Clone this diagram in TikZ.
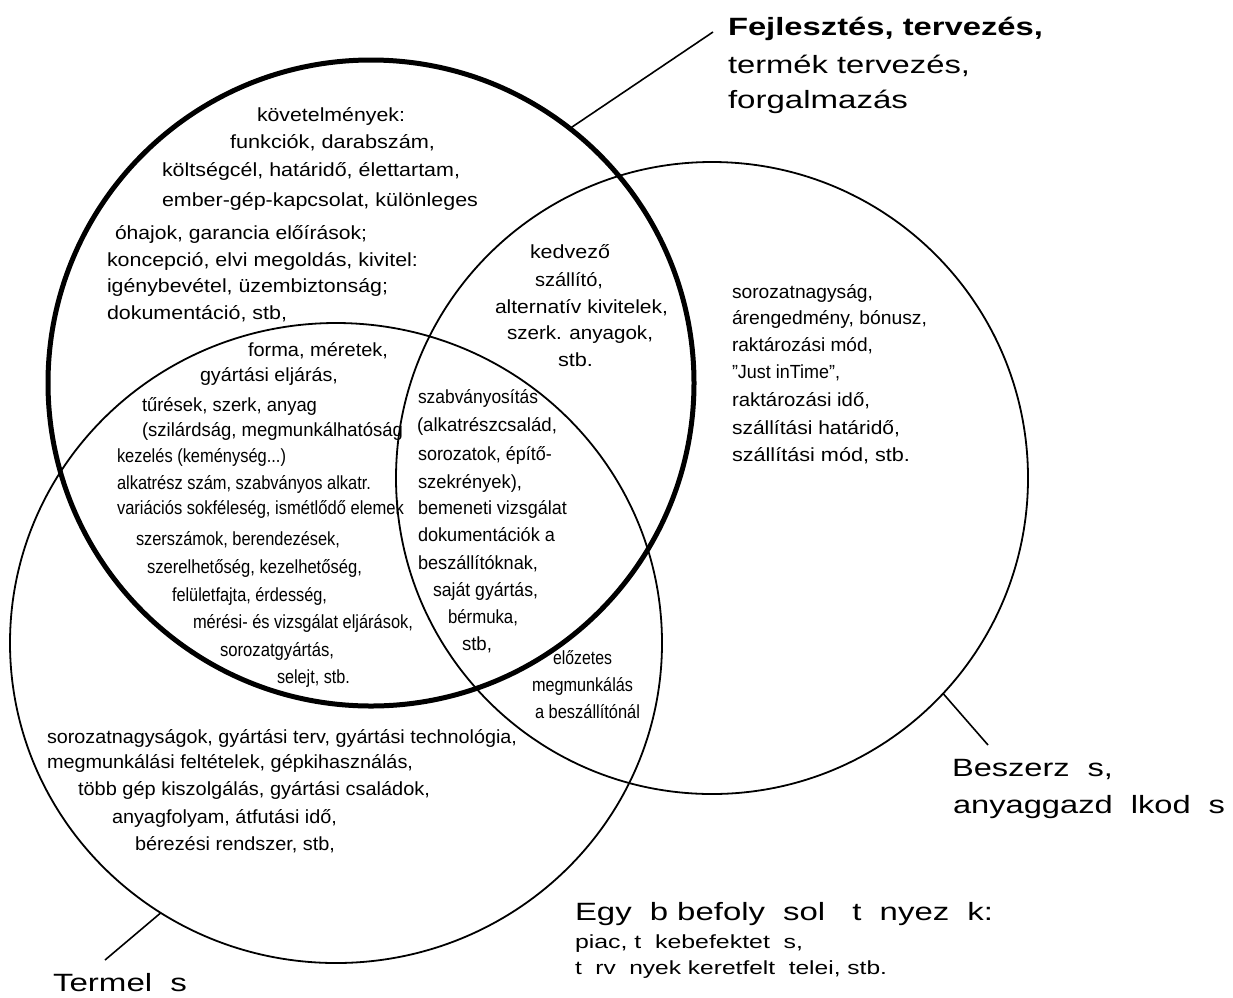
\documentclass[tikz,border=0pt]{standalone}
\usepackage{fontspec}
\setmainfont{Liberation Sans}
\usepackage{graphicx}
\usetikzlibrary{shapes.geometric}
\newcommand{\gp}{\hspace{0.55em}}
\begin{document}
\begin{tikzpicture}[x=1pt,y=-1pt,
  txt/.style={inner sep=0pt, outer sep=0pt, anchor=base west, yshift=-6pt, font=\fontsize{19}{22}\selectfont},
  big/.style={inner sep=0pt, outer sep=0pt, anchor=base west, yshift=-8pt, font=\fontsize{25}{28}\selectfont},
  thinring/.style={draw, line width=1.8pt, inner sep=0pt, outer sep=0pt},
  thickring/.style={draw, line width=5pt, inner sep=0pt, outer sep=0pt},
  leader/.style={line width=1.6pt}]
\useasboundingbox (0,0) rectangle (1233,997);
% circles
\node[thickring, circle, minimum size=646pt] (dev) at (371,383) {};
\node[thinring, circle, minimum size=632pt] (buy) at (712,478) {};
\node[thinring, ellipse, minimum width=652pt, minimum height=640pt] (prod) at (336,643) {};
% block A
\foreach \x/\w/\y/\t [count=\i] in {
  257/148/115/{követelmények:},
  230/205/142/{funkciók, darabszám,},
  162/298/170/{költségcél, határidő, élettartam,},
  162/316/200/{ember-gép-kapcsolat, különleges},
  115/252/233/{óhajok, garancia előírások;},
  107/311/260/{koncepció, elvi megoldás, kivitel:},
  107/281/286/{igénybevétel, üzembiztonság;},
  107/180/313/{dokumentáció, stb,}}
  {\node[txt] (A\i) at (\x,\y) {\resizebox{\w pt}{\height}{\t}};}
% block B
\foreach \x/\w/\y/\t [count=\i] in {
  248/140/350/{forma, méretek,},
  200/138/375/{gyártási eljárás,},
  142/175/405/{tűrések, szerk, anyag},
  142/261/430/{(szilárdság, megmunkálhatóság},
  117/169/456/{kezelés (keménység...)},
  117/254/483/{alkatrész szám, szabványos alkatr.},
  117/287/508/{variációs sokféleség, ismétlődő elemek},
  136/204/539/{szerszámok, berendezések,},
  147/215/567/{szerelhetőség, kezelhetőség,},
  172/155/595/{felületfajta, érdesség,},
  193/220/622/{mérési- és vizsgálat eljárások,},
  220/114/650/{sorozatgyártás,},
  277/73/677/{selejt, stb.}}
  {\node[txt] (B\i) at (\x,\y) {\resizebox{\w pt}{\height}{\t}};}
% block C
\foreach \x/\w/\y/\t [count=\i] in {
  418/120/397/{szabványosítás},
  417/140/425/{(alkatrészcsalád,},
  418/134/454/{sorozatok, építő-},
  418/104/482/{szekrények),},
  418/149/508/{bemeneti vizsgálat},
  418/137/535/{dokumentációk a},
  418/120/563/{beszállítóknak,},
  433/105/590/{saját gyártás,},
  448/70/617/{bérmuka,},
  462/30/644/{stb,}}
  {\node[txt] (C\i) at (\x,\y) {\resizebox{\w pt}{\height}{\t}};}
% block D
\foreach \x/\w/\y/\t [count=\i] in {
  530/80/252/{kedvező},
  535/68/280/{szállító,},
  495/173/307/{alternatív kivitelek,},
  507/146/333/{szerk. anyagok,},
  558/35/360/{stb.}}
  {\node[txt] (D\i) at (\x,\y) {\resizebox{\w pt}{\height}{\t}};}
% block E
\foreach \x/\w/\y/\t [count=\i] in {
  732/141/292/{sorozatnagyság,},
  732/195/318/{árengedmény, bónusz,},
  732/141/345/{raktározási mód,},
  732/108/372/{"Just inTime",},
  732/138/400/{raktározási idő,},
  732/168/428/{szállítási határidő,},
  732/178/455/{szállítási mód, stb.}}
  {\node[txt] (E\i) at (\x,\y) {\resizebox{\w pt}{\height}{\t}};}
% block F
\foreach \x/\w/\y/\t [count=\i] in {
  47/470/737/{sorozatnagyságok, gyártási terv, gyártási technológia,},
  47/366/762/{megmunkálási feltételek, gépkihasználás,},
  78/352/789/{több gép kiszolgálás, gyártási családok,},
  112/225/817/{anyagfolyam, átfutási idő,},
  135/200/844/{bérezési rendszer, stb,}}
  {\node[txt] (F\i) at (\x,\y) {\resizebox{\w pt}{\height}{\t}};}
% block G
\foreach \x/\w/\y/\t [count=\i] in {
  553/59/658/{előzetes},
  532/101/685/{megmunkálás},
  535/105/712/{a beszállítónál}}
  {\node[txt] (G\i) at (\x,\y) {\resizebox{\w pt}{\height}{\t}};}
% labels
\node[big] (L1) at (728,27) {\resizebox{315pt}{\height}{\bfseries Fejlesztés, tervezés,}};
\node[big] (L2) at (728,65) {\resizebox{242pt}{\height}{termék tervezés,}};
\node[big] (L3) at (728,100) {\resizebox{180pt}{\height}{forgalmazás}};
\node[big] (M1) at (952,768) {\resizebox{161pt}{\height}{Beszerz\gp s,}};
\node[big] (M2) at (953,805) {\resizebox{272pt}{\height}{anyaggazd\gp lkod\gp s}};
\node[big] (N1) at (575,912) {\resizebox{418pt}{\height}{Egy\gp b befoly\gp sol\gp\ t\gp nyez\gp k:}};
\node[txt] (N2) at (575,942) {\resizebox{228pt}{\height}{piac, t\gp kebefektet\gp s,}};
\node[txt] (N3) at (575,968) {\resizebox{312pt}{\height}{t\gp rv\gp nyek keretfelt\gp telei, stb.}};
\node[big] (P1) at (53,983) {\resizebox{134pt}{\height}{Termel\gp s}};
% leaders
\coordinate (devend) at (713,32);
\coordinate (buyend) at (988,745);
\coordinate (prodend) at (105,960);
\draw[leader] (dev.52) -- (devend);
\draw[leader] (buy.-43) -- (buyend);
\draw[leader] (prod.237) -- (prodend);
\end{tikzpicture}
\end{document}
